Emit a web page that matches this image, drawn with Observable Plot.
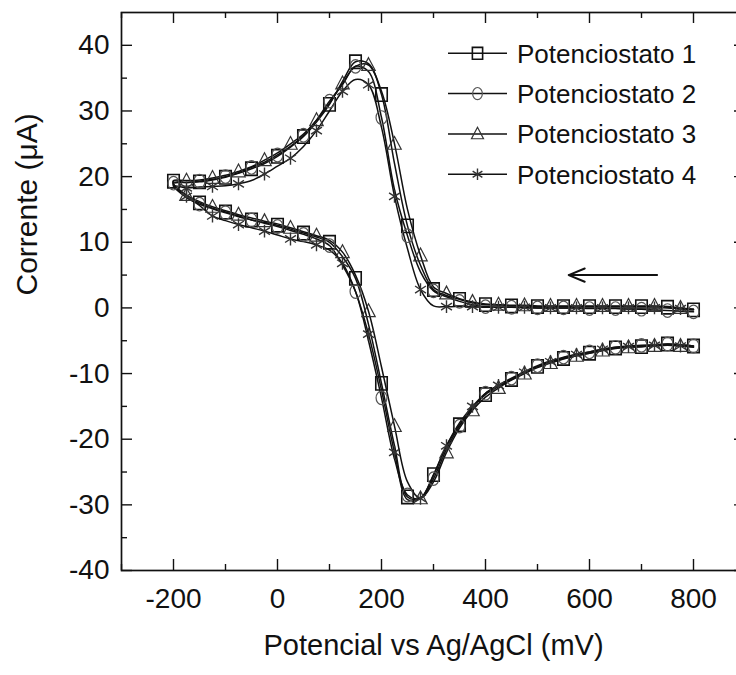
<!DOCTYPE html>
<html><head><meta charset="utf-8">
<script src="https://cdn.jsdelivr.net/npm/d3@7"></script>
<script src="https://cdn.jsdelivr.net/npm/@observablehq/plot@0.6"></script>
<style>
html,body{margin:0;padding:0;background:#fff;overflow:hidden;}
#chart{width:736px;height:675px;overflow:hidden;}
#chart svg{max-width:none !important;width:760px !important;height:675px !important;}
</style></head><body><div id="chart"></div>
<script>
// Potential grid (mV): upper (return sweep 800 -> -200) and lower (-200 -> 800) branches
const potentialUpper = [800,775,750,725,700,675,650,625,600,575,550,525,500,475,450,425,400,375,350,325,300,275,250,225,200,175,150,125,100,75,50,25,0,-25,-50,-75,-100,-125,-150,-175,-200];
const potentialLower = [-200,-175,-150,-125,-100,-75,-50,-25,0,25,50,75,100,125,150,175,200,225,250,275,300,325,350,375,400,425,450,475,500,525,550,575,600,625,650,675,700,725,750,775,800];

// Current (µA)
const pot1Upper = [-0.3,-0.2,0.1,0.2,0.2,0.2,0.2,0.2,0.2,0.2,0.2,0.2,0.2,0.3,0.3,0.4,0.5,0.8,1.3,1.9,2.8,6.5,12.5,22,32.5,37.2,37.5,34.5,31,28.3,26.1,24.5,23.1,22,21.2,20.5,19.9,19.5,19.2,19.1,19.3];
const pot1Lower = [18.8,17,16,15.2,14.6,14,13.4,13,12.6,12,11.4,10.8,10,7.8,4.5,-2.5,-11.5,-21,-28.8,-29,-25.4,-21,-17.8,-15.2,-13.2,-12,-10.9,-9.9,-8.9,-8.3,-7.7,-7.3,-6.9,-6.5,-6.1,-6,-5.9,-5.7,-5.5,-5.6,-5.8];
const pot2Upper = [-0.6,-0.5,-0.4,-0.3,-0.2,-0.2,-0.1,-0.1,-0.1,0,0,0,0,0,0.1,0.1,0.2,0.5,1.0,1.7,2.6,5.5,11,18,29,36,36.8,34,31.5,28.6,26.3,24.6,23.3,22.2,21.4,20.6,20,19.6,19.3,19.1,19.0];
const pot2Lower = [18.6,16.8,15.8,15.1,14.5,13.9,13.4,12.9,12.4,11.8,11.2,10.5,9.5,6.5,2.5,-5,-13.7,-23,-28.5,-29,-26,-21.5,-18,-15.3,-13,-11.8,-10.7,-9.7,-8.8,-8.1,-7.5,-7.1,-6.7,-6.3,-6,-5.8,-5.7,-5.6,-5.5,-5.6,-5.8];
const pot3Upper = [-0.2,0,0.2,0.3,0.3,0.3,0.3,0.3,0.3,0.3,0.3,0.3,0.3,0.4,0.4,0.5,0.6,0.9,1.4,2.2,3.2,8,15,25,33,37,36.8,34.2,31.2,28.6,26.5,25,23.6,22.5,21.5,20.8,20.2,19.8,19.5,19.4,19.4];
const pot3Lower = [18.9,17.2,16.2,15.4,14.8,14.2,13.7,13.2,12.8,12.2,11.6,11,10.3,8.5,5,-0.5,-9,-18,-26.5,-29,-26.5,-22,-18.3,-15.6,-13.6,-12.2,-11,-10,-9.1,-8.4,-7.8,-7.3,-6.9,-6.5,-6.2,-6,-5.9,-5.8,-5.7,-5.8,-5.9];
const pot4Upper = [-0.2,-0.1,0,0,0,0,0,0,0,0,0,0,0,0.1,0.1,0.1,0.1,0.2,0.2,0.2,0.3,2.8,9,17,27.5,34,34.8,33,30,27,24.6,22.8,21.6,20.4,19.4,18.9,18.6,18.5,18.4,18.3,18.6];
const pot4Lower = [18.5,17,15.6,14,13.3,12.7,12.2,11.7,11.1,10.5,10.1,9.6,8.8,6.8,2.5,-4,-12.5,-22,-29.2,-29,-25.5,-21,-17.5,-15,-13,-11.8,-10.8,-9.8,-8.9,-8.2,-7.6,-7.1,-6.7,-6.3,-6,-5.9,-5.8,-5.7,-5.6,-5.8,-6.0];

const seriesNames = ["Potenciostato 1","Potenciostato 2","Potenciostato 3","Potenciostato 4"];
const markerPhase = [0,0,1,1];

// axis ticks
const xLabelTicks = [-200,0,200,400,600,800];
const xMinorTicks = [-300,-100,100,300,500,700,900];
const yLabelTicks = [-40,-30,-20,-10,0,10,20,30,40];
const yMinorTicks = [-35,-25,-15,-5,5,15,25,35];

// scan direction arrow
const arrowFrom = [730, 5];
const arrowTo = [560, 5];

const xTitle = "Potencial vs Ag/AgCl (mV)";
const yTitle = "Corrente (μA)";

// ---- symbols (slightly narrow, like the reference) ----
const sx = 0.86;
const symSquare = {draw(c, size){ const r=Math.sqrt(size/Math.PI); const h=r*0.9, w=h*sx; c.moveTo(-w,-h); c.lineTo(w,-h); c.lineTo(w,h); c.lineTo(-w,h); c.closePath(); }};
const symCircle = {draw(c, size){ const r=Math.sqrt(size/Math.PI); const ry=r, rx=r*0.8, k=0.5523;
  c.moveTo(rx,0); c.bezierCurveTo(rx,ry*k,rx*k,ry,0,ry); c.bezierCurveTo(-rx*k,ry,-rx,ry*k,-rx,0);
  c.bezierCurveTo(-rx,-ry*k,-rx*k,-ry,0,-ry); c.bezierCurveTo(rx*k,-ry,rx,-ry*k,rx,0); c.closePath(); }};
const symTriangle = {draw(c, size){ const r=Math.sqrt(size/Math.PI); c.moveTo(0,-r*1.15); c.lineTo(r*1.05,r*0.85); c.lineTo(-r*1.05,r*0.85); c.closePath(); }};
const symAsterisk = {draw(c, size){ const r=Math.sqrt(size/Math.PI); const w=r*0.85;
  c.moveTo(0,-r); c.lineTo(0,r); c.moveTo(-w,-r*0.55); c.lineTo(w,r*0.55); c.moveTo(-w,r*0.55); c.lineTo(w,-r*0.55); }};
const symbols = [symSquare, symCircle, symTriangle, symAsterisk];
const symR = [7.4, 6.8, 6.4, 6.4];
const symColor = ["#111","#555","#333","#333"];
const symWidth = [1.6, 1.2, 1.2, 1.4];

const uppers = [pot1Upper, pot2Upper, pot3Upper, pot4Upper];
const lowers = [pot1Lower, pot2Lower, pot3Lower, pot4Lower];
const rows = [];
seriesNames.forEach((name, s) => {
  uppers[s].forEach((v,i) => rows.push({series:name, E:potentialUpper[i], I:v, mark: i%2===markerPhase[s]}));
  lowers[s].forEach((v,i) => rows.push({series:name, E:potentialLower[i], I:v, mark: i>0 && i%2===markerPhase[s]}));
});

const fontFamily = '"Liberation Sans", Arial, Helvetica, sans-serif';
const W = 760, H = 675, mL = 121, mR = 15, mT = 12, mB = 105;
const plotW = W - mL - mR, plotH = H - mT - mB;
const major = 11, minor = 6;

const marks = [
  Plot.line(rows, {x:"E", y:"I", z:"series", curve:"catmull-rom", stroke:"#111", strokeWidth:1.5})
];
seriesNames.forEach((name, s) => {
  marks.push(Plot.dot(rows, {filter: d => d.mark && d.series===name, x:"E", y:"I", symbol: symbols[s], r: symR[s], stroke: symColor[s], strokeWidth: symWidth[s], fill:"none"}));
});
marks.push(
  // ticks (inward, mirrored)
  Plot.tickX(xLabelTicks, {x: d=>d, insetTop: plotH - major, stroke:"#111", strokeWidth:1.4}),
  Plot.tickX(xMinorTicks, {x: d=>d, insetTop: plotH - minor, stroke:"#111", strokeWidth:1.4}),
  Plot.tickX(xLabelTicks, {x: d=>d, insetBottom: plotH - major, stroke:"#111", strokeWidth:1.4}),
  Plot.tickX(xMinorTicks, {x: d=>d, insetBottom: plotH - minor, stroke:"#111", strokeWidth:1.4}),
  Plot.tickY(yLabelTicks, {y: d=>d, insetRight: plotW - major, stroke:"#111", strokeWidth:1.4}),
  Plot.tickY(yMinorTicks, {y: d=>d, insetRight: plotW - minor, stroke:"#111", strokeWidth:1.4}),
  Plot.tickY(yLabelTicks, {y: d=>d, insetLeft: plotW - major, stroke:"#111", strokeWidth:1.4}),
  Plot.tickY(yMinorTicks, {y: d=>d, insetLeft: plotW - minor, stroke:"#111", strokeWidth:1.4}),
  Plot.frame({stroke:"#111", strokeWidth:1.7}),
  Plot.axisX({ticks: xLabelTicks, tickSize:0, tickPadding:18, tickFormat: d=>String(d), fontSize:28, label:null, fill:"#111"}),
  Plot.axisY({ticks: yLabelTicks, tickSize:0, tickPadding:12, tickFormat: d=>String(d), fontSize:28, label:null, fill:"#111"}),
  Plot.arrow([{x1:arrowFrom[0], y1:arrowFrom[1], x2:arrowTo[0], y2:arrowTo[1]}], {x1:"x1", y1:"y1", x2:"x2", y2:"y2", stroke:"#111", strokeWidth:2, headLength:13, headAngle:45}),
  Plot.text([xTitle], {text: d=>d, frameAnchor:"bottom", dy:84, lineAnchor:"bottom", fontSize:29, fill:"#111"}),
  Plot.text([yTitle], {text: d=>d, frameAnchor:"left", dx:-94, dy:4, rotate:-90, lineAnchor:"middle", fontSize:30, fill:"#111"})
);

const chart = Plot.plot({
  width: W, height: H,
  marginLeft: mL, marginRight: mR, marginTop: mT, marginBottom: mB,
  style: {fontFamily, background:"white", color:"#111", overflow:"visible", maxWidth:"none"},
  x: {domain: [-300, 900]},
  y: {domain: [-40, 45]},
  marks
});

// legend inside the frame (top right)
const svg = d3.select(chart);
const leg = svg.append("g").attr("font-family", fontFamily).attr("font-size", 26).attr("fill", "#111").attr("text-anchor", "start");
seriesNames.forEach((name, i) => {
  const y = 53.3 + i * 40.3;
  leg.append("line").attr("x1", 448).attr("x2", 507).attr("y1", y).attr("y2", y).attr("stroke", "#111").attr("stroke-width", 1.5);
  leg.append("path").attr("d", d3.symbol(symbols[i], Math.PI * symR[i] * symR[i] * 0.8)())
    .attr("transform", `translate(477.5,${y})`).attr("fill", "none").attr("stroke", symColor[i]).attr("stroke-width", symWidth[i]);
  leg.append("text").attr("x", 517).attr("y", y).attr("dy", "0.36em").attr("text-anchor", "start").text(name);
});

document.getElementById("chart").appendChild(chart);
</script>
</body></html>
